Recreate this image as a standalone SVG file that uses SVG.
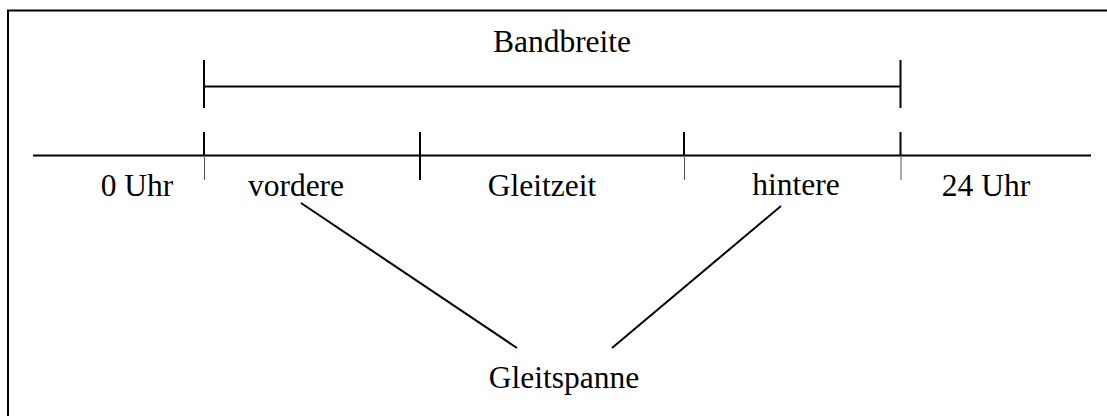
<svg xmlns="http://www.w3.org/2000/svg" width="1107" height="416" viewBox="0 0 1107 416">
<style>
text{font-family:"Liberation Serif","Times New Roman",serif;font-size:31.5px;fill:#000;text-anchor:middle}
.t{stroke:#000;stroke-width:2;fill:none}
.th{stroke:#555;stroke-width:1;fill:none}
</style>
<rect x="0" y="0" width="1107" height="416" fill="#fff"/>
<rect x="8" y="10.5" width="1120" height="430" fill="none" stroke="#000" stroke-width="2"/>
<g id="connectors">
<line class="t" x1="33" y1="155.5" x2="1091" y2="155.5"/>
<line class="t" x1="204" y1="86.5" x2="900.5" y2="86.5"/>
<line class="t" x1="204" y1="60" x2="204" y2="108"/>
<line class="t" x1="900.5" y1="60" x2="900.5" y2="108"/>
<line class="t" x1="204" y1="132" x2="204" y2="155"/>
<line class="th" x1="204.5" y1="155" x2="204.5" y2="180"/>
<line class="t" x1="420" y1="132" x2="420" y2="180"/>
<line class="t" x1="684" y1="132" x2="684" y2="155"/>
<line class="th" x1="684.5" y1="155" x2="684.5" y2="180"/>
<line class="t" x1="900.5" y1="132" x2="900.5" y2="155"/>
<line class="th" x1="901" y1="155" x2="901" y2="180"/>
<line class="t" x1="301" y1="203" x2="517" y2="348"/>
<line class="t" x1="781" y1="206" x2="612" y2="348"/>
</g>
<g id="bandbreite"><text x="562" y="52">Bandbreite</text></g>
<g id="uhr0"><text x="137" y="196">0 Uhr</text></g>
<g id="vordere"><text x="296" y="196">vordere</text></g>
<g id="gleitzeit"><text x="542" y="196">Gleitzeit</text></g>
<g id="hintere"><text x="796" y="195">hintere</text></g>
<g id="uhr24"><text x="986" y="196">24 Uhr</text></g>
<g id="gleitspanne"><text x="564" y="388">Gleitspanne</text></g>
</svg>
